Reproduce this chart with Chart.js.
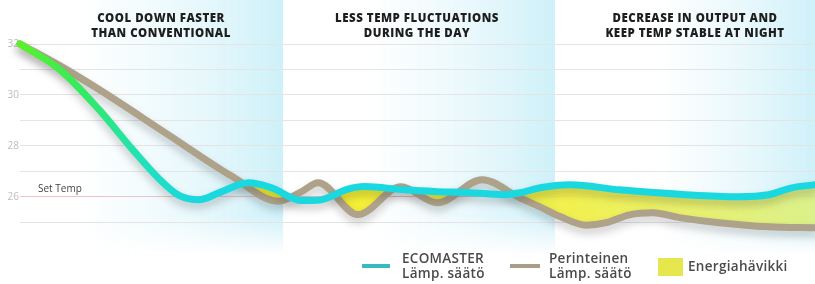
<!DOCTYPE html>
<html lang="fi">
<head>
<meta charset="UTF-8">
<title>ECOMASTER vs perinteinen lämpötilan säätö</title>
<script src="https://cdn.jsdelivr.net/npm/chart.js"></script>
<style>
  body { margin: 0; background: #fff; font-family: "Open Sans", "Lato", sans-serif; }
  #wrap { position: relative; width: 815px; height: 284px; overflow: hidden; }
  canvas { position: absolute; left: 0; top: 0; }
  .head {
    position: absolute; top: 10px; width: 280px; text-align: center;
    font-weight: 800; font-size: 11.5px; line-height: 15px; color: #1e1e1e; letter-spacing: 0.5px;
  }
  .settemp { position: absolute; left: 38px; top: 181px; font-size: 10px; color: #444; }
  .leg { position: absolute; font-size: 13.5px; font-weight: 600; line-height: 15px; color: #4a4a4a; letter-spacing: 0.3px; }
  .swatch { position: absolute; }
</style>
</head>
<body>
<div id="wrap">
  <canvas id="tempChart" width="815" height="284"></canvas>
  <div class="head" style="left:21px">COOL DOWN FASTER<br>THAN CONVENTIONAL</div>
  <div class="head" style="left:277px">LESS TEMP FLUCTUATIONS<br>DURING THE DAY</div>
  <div class="head" style="left:555px">DECREASE IN OUTPUT AND<br>KEEP TEMP STABLE AT NIGHT</div>
  <div class="settemp">Set Temp</div>

  <div class="swatch" style="left:362px;top:264px;width:28px;height:4px;background:#3bb9c1"></div>
  <div class="leg" style="left:402px;top:251px">ECOMASTER<br>Lämp. säätö</div>
  <div class="swatch" style="left:510px;top:264px;width:30px;height:4px;background:#a89e88"></div>
  <div class="leg" style="left:549px;top:251px">Perinteinen<br>Lämp. säätö</div>
  <div class="swatch" style="left:658px;top:258px;width:25px;height:18px;background:#e6e64e"></div>
  <div class="leg" style="left:688px;top:259px">Energiahävikki</div>
</div>

<script>
    // time (hours from start) and temperatures
    const ecoHours = [0, 1.2, 2.4, 3.4, 4.2, 4.8, 5.4, 6.0, 6.9, 7.6, 8.5, 9.0, 9.9, 10.4, 11.6, 12.6, 13.6, 14.6, 15.1, 15.7, 16.6, 18.1, 20.1, 21.65, 22.6, 23.3, 24];
    const ecoTemps = [32, 31.0, 29.4, 27.85, 26.7, 26.05, 25.88, 26.15, 26.55, 26.35, 25.85, 25.86, 26.3, 26.4, 26.27, 26.2, 26.16, 26.08, 26.16, 26.35, 26.47, 26.27, 26.08, 26.0, 26.08, 26.35, 26.47];

    const convHours = [0, 1.2, 2.4, 4.4, 6.4, 7.8, 8.5, 9.0, 10.2, 11.5, 12.6, 13.95, 15.1, 15.7, 16.3, 17.1, 17.7, 18.4, 19.1, 19.9, 21.1, 22.6, 24];
    const convTemps = [32, 31.15, 30.2, 28.5, 26.8, 25.82, 26.2, 26.55, 25.3, 26.39, 25.76, 26.67, 25.95, 25.6, 25.22, 24.88, 24.98, 25.29, 25.37, 25.18, 24.98, 24.82, 24.78];

    const yTickLabels = [26, 28, 30, 32];
    const setTemp = 26;

    // the three highlighted phases (hours)
    const phases = [[1.8, 7.94], [10.6, 16.15], [19.3, 24]];

    function toPoints(xs, ys) {
        return xs.map((x, i) => ({ x: x, y: ys[i] }));
    }

    // light cyan bands behind the chart
    const bandsPlugin = {
        id: 'bands',
        beforeDraw(chart) {
            const ctx = chart.ctx;
            const xs = chart.scales.x;
            phases.forEach(p => {
                const x0 = xs.getPixelForValue(p[0]);
                const x1 = xs.getPixelForValue(p[1]);
                const g = ctx.createLinearGradient(x0, 0, x1, 0);
                g.addColorStop(0, 'rgba(205,240,248,0)');
                g.addColorStop(0.5, 'rgba(205,240,248,0.4)');
                g.addColorStop(1, 'rgba(198,238,248,0.85)');
                ctx.save();
                ctx.fillStyle = g;
                ctx.fillRect(x0, 0, x1 - x0, 255);
                // fade out towards the legend
                const v = ctx.createLinearGradient(0, 215, 0, 255);
                v.addColorStop(0, 'rgba(255,255,255,0)');
                v.addColorStop(1, 'rgba(255,255,255,1)');
                ctx.fillStyle = v;
                ctx.fillRect(x0, 215, x1 - x0, 40);
                ctx.restore();
            });
        }
    };

    // soft drop shadow under the lines
    const shadowPlugin = {
        id: 'lineShadow',
        beforeDatasetDraw(chart) {
            const ctx = chart.ctx;
            ctx.save();
            ctx.shadowColor = 'rgba(0,0,0,0.22)';
            ctx.shadowBlur = 9;
            ctx.shadowOffsetY = 5;
        },
        afterDatasetDraw(chart) {
            chart.ctx.restore();
        }
    };

    function ecoColor(c) {
        const chart = c.chart;
        if (!chart.chartArea) return '#1ad8e0';
        const xs = chart.scales.x;
        const g = chart.ctx.createLinearGradient(xs.getPixelForValue(0), 0, xs.getPixelForValue(5.2), 0);
        g.addColorStop(0, '#5cf02a');
        g.addColorStop(0.35, '#35ea5e');
        g.addColorStop(0.7, '#20e2b8');
        g.addColorStop(1, '#1ad8e0');
        return g;
    }

    function lossColor(c) {
        const chart = c.chart;
        if (!chart.chartArea) return 'rgba(240,235,40,0.9)';
        const a = chart.chartArea;
        const g = chart.ctx.createLinearGradient(a.left + 300, 0, a.right, 0);
        g.addColorStop(0, 'rgba(245,238,40,0.95)');
        g.addColorStop(0.5, 'rgba(240,238,60,0.9)');
        g.addColorStop(1, 'rgba(220,240,120,0.85)');
        return g;
    }

    const ctx = document.getElementById('tempChart').getContext('2d');
    new Chart(ctx, {
        type: 'line',
        data: {
            datasets: [{
                label: 'ECOMASTER Lämp. säätö',
                data: toPoints(ecoHours, ecoTemps),
                borderColor: ecoColor,
                borderWidth: 7,
                borderCapStyle: 'round',
                borderJoinStyle: 'round',
                pointRadius: 0,
                cubicInterpolationMode: 'monotone',
                fill: false,
                clip: false
            }, {
                label: 'Perinteinen Lämp. säätö',
                data: toPoints(convHours, convTemps),
                borderColor: '#aea28a',
                borderWidth: 7,
                borderCapStyle: 'round',
                borderJoinStyle: 'round',
                pointRadius: 0,
                cubicInterpolationMode: 'monotone',
                fill: { target: 0, above: 'rgba(0,0,0,0)', below: lossColor },
                clip: false
            }]
        },
        options: {
            responsive: false,
            animation: false,
            layout: { padding: { top: 44, bottom: 44, left: 0, right: 0 } },
            plugins: {
                legend: { display: false },
                tooltip: { enabled: false },
                filler: { drawTime: 'beforeDatasetsDraw' }
            },
            scales: {
                x: { type: 'linear', min: 0, max: 24, display: false },
                y: {
                    min: 24.3,
                    max: 32,
                    border: { display: false },
                    grid: {
                        drawTicks: false,
                        color: c => c.tick && c.tick.value === setTemp ? 'rgba(238,170,170,0.7)' : '#e4e4e4',
                        lineWidth: 1
                    },
                    ticks: {
                        stepSize: 1,
                        includeBounds: false,
                        padding: 1,
                        color: '#bdbdbd',
                        font: { size: 10, family: 'Open Sans' },
                        callback: v => yTickLabels.includes(v) ? v : ''
                    },
                    afterFit: s => { s.width = 20; }
                }
            }
        },
        plugins: [bandsPlugin, shadowPlugin]
    });
</script>
</body>
</html>
